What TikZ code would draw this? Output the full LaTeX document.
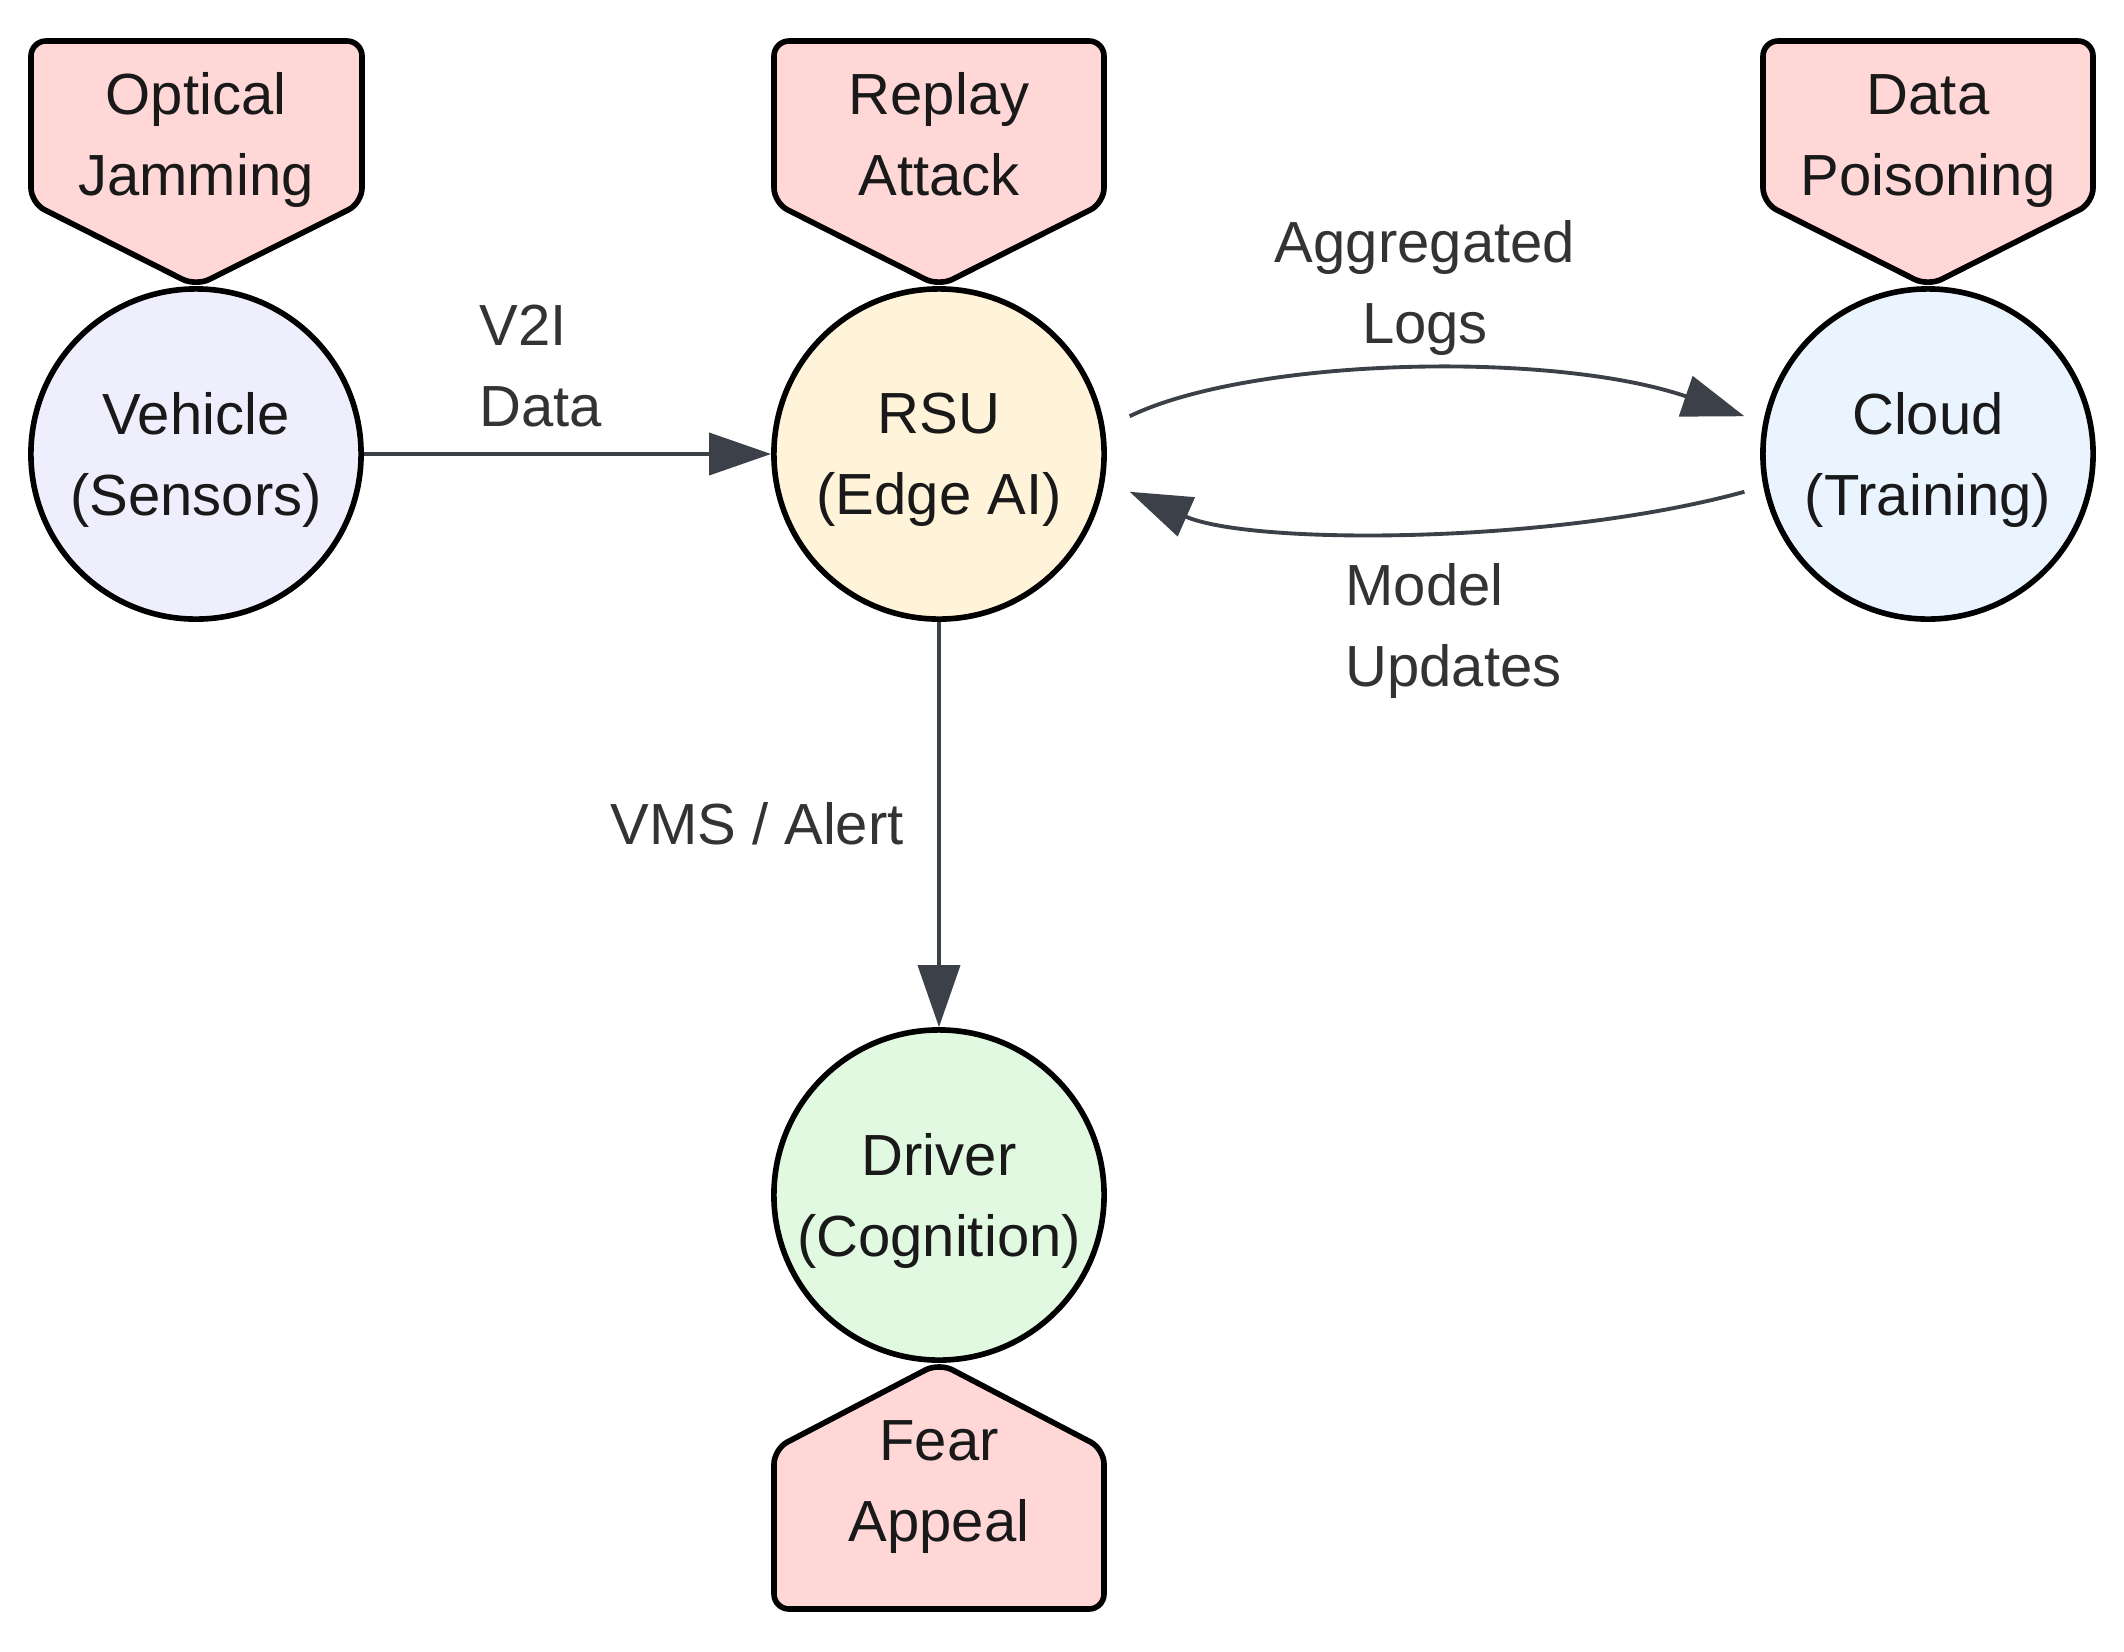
\documentclass[tikz,border=0pt]{standalone}
\usepackage{fontspec}
\setmainfont{Liberation Sans}
\usetikzlibrary{arrows.meta}
\definecolor{vehfill}{HTML}{EEEEFD}
\definecolor{rsufill}{HTML}{FFF3D9}
\definecolor{cloudfill}{HTML}{EAF4FF}
\definecolor{drvfill}{HTML}{E1F8E1}
\definecolor{atkfill}{HTML}{FFD7D7}
\definecolor{edgecol}{HTML}{3B4049}
\definecolor{lblcol}{HTML}{333333}
\begin{document}
\begin{tikzpicture}[x=0.01cm,y=-0.01cm,
  ent/.style={circle,draw=black,line width=1.6pt,minimum size=3.3cm,inner sep=0pt},
  enttext/.style={align=center,text=black!90,font=\fontsize{16.5}{23}\selectfont},
  atk/.style={draw=black,fill=atkfill,line width=1.6pt,rounded corners=0.15cm},
  atktext/.style={align=center,text=black!90,font=\fontsize{16.5}{23}\selectfont},
  flow/.style={draw=edgecol,line width=1.1pt,-{Triangle[length=0.62cm,width=0.42cm,fill=edgecol]}},
  lbl/.style={text=lblcol,font=\fontsize{16.5}{23}\selectfont}
]
\useasboundingbox (0,0) rectangle (2124,1651);

% entities
\node[ent,fill=vehfill]   (veh)   at (196,454)  {};
\node[enttext] (vehT) at (196,460) {Vehicle\\(Sensors)};
\node[ent,fill=rsufill]   (rsu)   at (939,454)  {};
\node[enttext] (rsuT) at (939,460) {RSU\\(Edge AI)};
\node[ent,fill=cloudfill] (cloud) at (1928,454) {};
\node[enttext] (cloudT) at (1928,460) {Cloud\\(Training)};
\node[ent,fill=drvfill]   (drv)   at (939,1195) {};
\node[enttext] (drvT) at (939,1201) {Driver\\(Cognition)};

% attack shapes
\path[atk] (31,203) -- (31,41) -- (362,41) -- (362,203) -- (veh.north) -- cycle;
\node[atktext] (oj) at (196,139) {\strut Optical\\Jamming\strut};
\path[atk] (774,203) -- (774,41) -- (1104,41) -- (1104,203) -- (rsu.north) -- cycle;
\node[atktext] (ra) at (939,139) {\strut Replay\\Attack\strut};
\path[atk] (1763,203) -- (1763,41) -- (2093,41) -- (2093,203) -- (cloud.north) -- cycle;
\node[atktext] (dp) at (1928,139) {\strut Data\\Poisoning\strut};
\path[atk] (774,1449) -- (774,1609) -- (1104,1609) -- (1104,1449) -- (drv.south) -- cycle;
\node[atktext] (fa) at (939,1485) {\strut Fear\\Appeal\strut};

% connectors
\draw[flow] (veh.east) -- (rsu.west);
\draw[flow] (rsu.south) -- (drv.north);
\draw[flow] ([xshift=0.27cm]rsu.13) .. controls (1250,358) and (1550,350) .. ([xshift=-0.2cm]cloud.167);
\draw[flow] ([xshift=-0.2cm]cloud.193) .. controls (1550,545) and (1250,545) .. ([xshift=0.27cm]rsu.347);

% labels
\node[lbl,align=left,anchor=west] (l1) at (467,366) {V2I\\Data};
\node[lbl,align=center] (l2) at (1425,288) {Aggregated\\Logs};
\node[lbl,align=left,anchor=west] (l3) at (1333,631) {Model\\Updates};
\node[lbl] (l4) at (757,824) {VMS / Alert};
\end{tikzpicture}
\end{document}
